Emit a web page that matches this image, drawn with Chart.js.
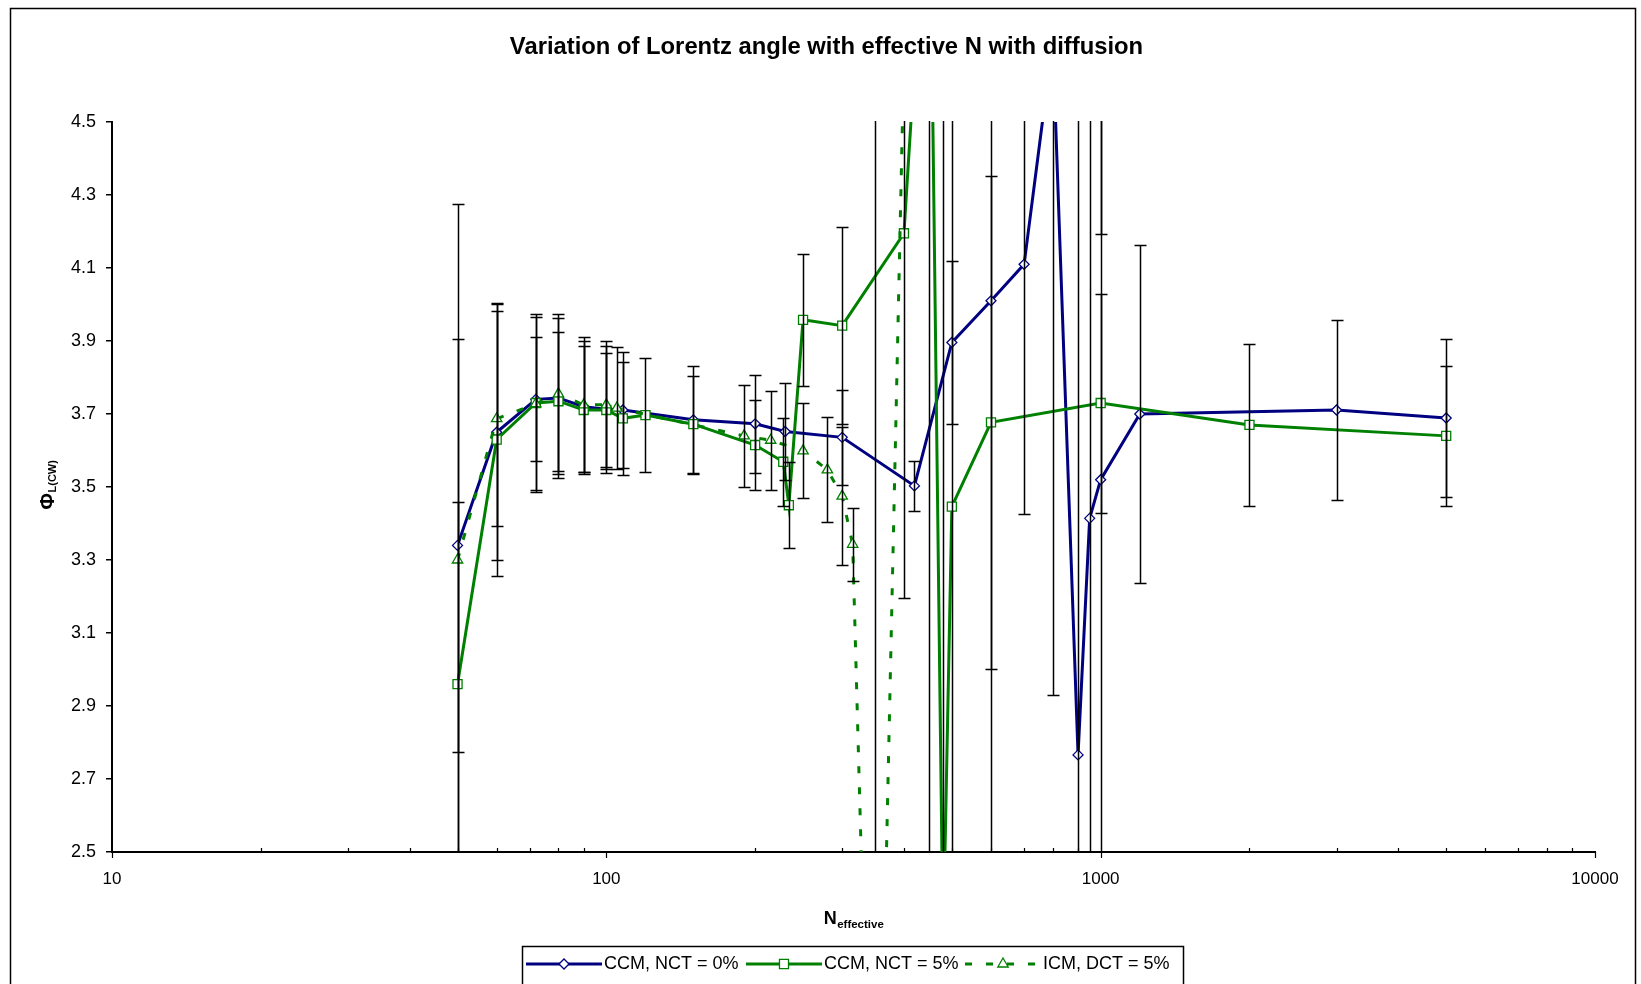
<!DOCTYPE html>
<html>
<head>
<meta charset="utf-8">
<title>Variation of Lorentz angle with effective N with diffusion</title>
<script src="https://cdn.jsdelivr.net/npm/chart.js@4/dist/chart.umd.min.js"></script>
<style>
  html, body { margin: 0; padding: 0; background: #fff; }
  canvas { display: block; }
</style>
</head>
<body>
<canvas id="chart" width="1641" height="984"></canvas>
<script>
// ---- data: effective N, Lorentz angle and symmetric error for each series ----
const ccm0N   = [50, 60, 72, 80, 90, 100, 108, 150, 200, 230, 300, 420, 500, 600, 700, 800, 900, 950, 1000, 1200, 3000, 5000];
const ccm0Phi = [3.34, 3.65, 3.74, 3.744, 3.72, 3.713, 3.711, 3.684, 3.673, 3.652, 3.636, 3.503, 3.896, 4.01, 4.11, 4.72, 2.766, 3.414, 3.52, 3.70, 3.711, 3.689];
const ccm0Err = [0.565, 0.35, 0.17, 0.22, 0.18, 0.174, 0.16, 0.148, 0.134, 0.132, 0.13, 0.068, 0.223, 2.0, 0.685, 1.79, 2.0, 1.3, 1.1, 0.463, 0.2475, 0.2165];

const ccm5N   = [50, 60, 72, 80, 90, 100, 108, 120, 150, 200, 228, 234, 250, 300, 400, 450, 480, 500, 600, 1000, 2000, 5000];
const ccm5Phi = [2.96, 3.63, 3.73, 3.735, 3.711, 3.711, 3.688, 3.697, 3.672, 3.615, 3.569, 3.45, 3.958, 3.942, 4.195, 5.3, 2.24, 3.446, 3.677, 3.73, 3.67, 3.64];
const ccm5Err = [0.5, 0.375, 0.245, 0.19, 0.175, 0.155, 0.155, 0.155, 0.133, 0.123, 0.12, 0.118, 0.18, 0.27, 1.0, 3.0, 2.5, 1.2, 0.676, 0.3, 0.222, 0.192];

const icm5N   = [50, 60, 72, 80, 90, 100, 105, 190, 215, 250, 280, 300, 315, 350, 420, 1000];
const icm5Phi = [3.30, 3.687, 3.728, 3.755, 3.725, 3.725, 3.716, 3.64, 3.628, 3.599, 3.547, 3.475, 3.343, 1.1, 6.0, 6.0];
const icm5Err = [0.975, 0.295, 0.2375, 0.219, 0.185, 0.176, 0.168, 0.139, 0.136, 0.13, 0.144, 0.19, 0.1, 3.6, 0, 1.807];

const seriesNames = ['CCM, NCT = 0%', 'CCM, NCT = 5%', 'ICM, DCT = 5%'];
const yTicks = { min: 2.5, max: 4.5, step: 0.2 };
const xRange = { min: 10, max: 10000 };

const titleText = 'Variation of Lorentz angle with effective N with diffusion';

// ---- styling ----
const FONT = "'Liberation Sans', Arial, Helvetica, sans-serif";
const NAVY = '#000080';
const GREEN = '#008000';
const DASH = [7, 14];

const points = (xs, ys) => xs.map((n, i) => ({ x: n, y: ys[i] }));

// vertical error bars with caps, clipped to the plot area
const errorBars = {
  id: 'errorBars',
  afterDatasetsDraw(chart) {
    const { ctx, chartArea: a, scales: { x, y } } = chart;
    ctx.save();
    ctx.beginPath();
    ctx.rect(a.left, a.top - 1, a.right - a.left, a.bottom - a.top + 2);
    ctx.clip();
    ctx.strokeStyle = '#000';
    ctx.lineWidth = 1.5;
    chart.data.datasets.forEach(ds => {
      if (!ds.errors) return;
      ds.data.forEach((p, i) => {
        const e = ds.errors[i];
        if (!e) return;
        const px = Math.round(x.getPixelForValue(p.x)) + 0.5;
        const yt = Math.round(y.getPixelForValue(p.y + e)) + 0.5;
        const yb = Math.round(y.getPixelForValue(p.y - e)) + 0.5;
        ctx.beginPath();
        ctx.moveTo(px, yt); ctx.lineTo(px, yb);
        ctx.moveTo(px - 6, yt); ctx.lineTo(px + 6, yt);
        ctx.moveTo(px - 6, yb); ctx.lineTo(px + 6, yb);
        ctx.stroke();
      });
    });
    ctx.restore();
  }
};

// log-axis tick marks: decades point down, minor ticks point up into the plot
const logTicks = {
  id: 'logTicks',
  afterDraw(chart) {
    const { ctx, chartArea: a, scales: { x } } = chart;
    ctx.save();
    ctx.strokeStyle = '#000';
    ctx.lineWidth = 1.2;
    ctx.beginPath();
    for (let d = xRange.min; d <= xRange.max; d *= 10) {
      const px = Math.round(x.getPixelForValue(d)) + 0.5;
      ctx.moveTo(px, a.bottom); ctx.lineTo(px, a.bottom + 6);
      if (d < xRange.max) {
        for (let m = 2; m <= 9; m++) {
          const mx = Math.round(x.getPixelForValue(d * m)) + 0.5;
          ctx.moveTo(mx, a.bottom); ctx.lineTo(mx, a.bottom - 4);
        }
      }
    }
    ctx.stroke();
    ctx.restore();
  }
};

// axis titles with subscripts, series key and outer frame
const decorations = {
  id: 'decorations',
  afterDraw(chart) {
    const { ctx, chartArea: a } = chart;
    ctx.save();
    ctx.fillStyle = '#000';

    // x-axis title: N_effective
    const cx = (a.left + a.right) / 2;
    ctx.textBaseline = 'middle';
    ctx.font = `bold 18px ${FONT}`;
    const wN = ctx.measureText('N').width;
    ctx.font = `bold 11.5px ${FONT}`;
    const wSub = ctx.measureText('effective').width;
    let sx = cx - (wN + wSub) / 2;
    ctx.font = `bold 18px ${FONT}`;
    ctx.textAlign = 'left';
    ctx.fillText('N', sx, 919);
    ctx.font = `bold 11.5px ${FONT}`;
    ctx.fillText('effective', sx + wN + 0.5, 925);

    // y-axis title: Φ_L(CW), rotated
    ctx.save();
    ctx.translate(48, 485);
    ctx.rotate(-Math.PI / 2);
    ctx.font = `bold 20px ${FONT}`;
    const wPhi = ctx.measureText('Φ').width;
    ctx.font = `bold 11px ${FONT}`;
    const wL = ctx.measureText('L(CW)').width;
    sx = -(wPhi + wL) / 2;
    ctx.font = `bold 20px ${FONT}`;
    ctx.fillText('Φ', sx, 0);
    ctx.font = `bold 11px ${FONT}`;
    ctx.fillText('L(CW)', sx + wPhi + 0.5, 5);
    ctx.restore();

    // series key
    ctx.strokeStyle = '#000';
    ctx.lineWidth = 1.5;
    ctx.strokeRect(522.5, 946.5, 661, 60);
    const keyY = 964;
    const keyX = [526, 746, 965];
    chart.data.datasets.forEach((ds, i) => {
      const x0 = keyX[i];
      ctx.save();
      ctx.strokeStyle = ds.borderColor;
      ctx.lineWidth = ds.borderWidth;
      ctx.setLineDash(ds.borderDash || []);
      ctx.beginPath();
      ctx.moveTo(x0, keyY); ctx.lineTo(x0 + 76, keyY);
      ctx.stroke();
      ctx.setLineDash([]);
      ctx.fillStyle = ds.pointBackgroundColor;
      ctx.strokeStyle = ds.pointBorderColor;
      ctx.lineWidth = ds.pointBorderWidth;
      Chart.helpers.drawPoint(ctx, {
        pointStyle: ds.pointStyle, radius: ds.pointRadius,
        borderWidth: ds.pointBorderWidth, rotation: 0
      }, x0 + 38, keyY);
      ctx.restore();
      ctx.font = `18px ${FONT}`;
      ctx.textAlign = 'left';
      ctx.textBaseline = 'middle';
      ctx.fillStyle = '#000';
      ctx.fillText(ds.label, x0 + 78, keyY);
    });

    // outer frame
    ctx.lineWidth = 1.5;
    ctx.strokeStyle = '#000';
    ctx.strokeRect(10.5, 8.5, 1625, 1000);
    ctx.restore();
  }
};

const baseSeries = {
  showLine: true,
  borderWidth: 3,
  tension: 0,
  pointBackgroundColor: '#ffffff',
  pointBorderWidth: 1.3,
  pointHoverRadius: 0
};

new Chart(document.getElementById('chart'), {
  type: 'scatter',
  data: {
    datasets: [
      Object.assign({}, baseSeries, {
        label: seriesNames[0],
        data: points(ccm0N, ccm0Phi),
        errors: ccm0Err,
        borderColor: NAVY,
        pointBorderColor: NAVY,
        pointStyle: 'rectRot',
        pointRadius: 5,
        order: 3
      }),
      Object.assign({}, baseSeries, {
        label: seriesNames[1],
        data: points(ccm5N, ccm5Phi),
        errors: ccm5Err,
        borderColor: GREEN,
        pointBorderColor: GREEN,
        pointStyle: 'rect',
        pointRadius: 6.4,
        order: 2
      }),
      Object.assign({}, baseSeries, {
        label: seriesNames[2],
        data: points(icm5N, icm5Phi),
        errors: icm5Err,
        borderColor: GREEN,
        borderDash: DASH,
        pointBorderColor: GREEN,
        pointStyle: 'triangle',
        pointRadius: 6,
        order: 1
      })
    ]
  },
  options: {
    responsive: false,
    devicePixelRatio: 1,
    animation: false,
    events: [],
    layout: { padding: { left: 58, right: 46, top: 0, bottom: 0 } },
    plugins: {
      legend: { display: false },
      tooltip: { enabled: false },
      title: {
        display: true,
        text: titleText,
        color: '#000',
        font: { family: FONT, size: 23.8, weight: 'bold' },
        padding: { top: 33, bottom: 60.4 }
      }
    },
    scales: {
      x: {
        type: 'logarithmic',
        min: xRange.min,
        max: xRange.max,
        afterFit(s) { s.height = 132; },
        grid: { display: false, drawTicks: false },
        border: { display: true, color: '#000', width: 2 },
        ticks: {
          autoSkip: false,
          maxRotation: 0,
          color: '#000',
          padding: 17,
          font: { family: FONT, size: 17 },
          callback(v) {
            const l = Math.log10(v);
            return Math.abs(l - Math.round(l)) < 1e-9 ? String(v) : '';
          }
        }
      },
      y: {
        min: yTicks.min,
        max: yTicks.max,
        afterFit(s) { s.width = 54; },
        grid: { display: true, drawOnChartArea: false, drawTicks: true, tickLength: 6, color: '#000', lineWidth: 1.5 },
        border: { display: true, color: '#000', width: 2 },
        ticks: {
          stepSize: yTicks.step,
          color: '#000',
          padding: 10,
          font: { family: FONT, size: 18 },
          callback(v) { return v.toFixed(1); }
        }
      }
    }
  },
  plugins: [errorBars, logTicks, decorations]
});
</script>
</body>
</html>
